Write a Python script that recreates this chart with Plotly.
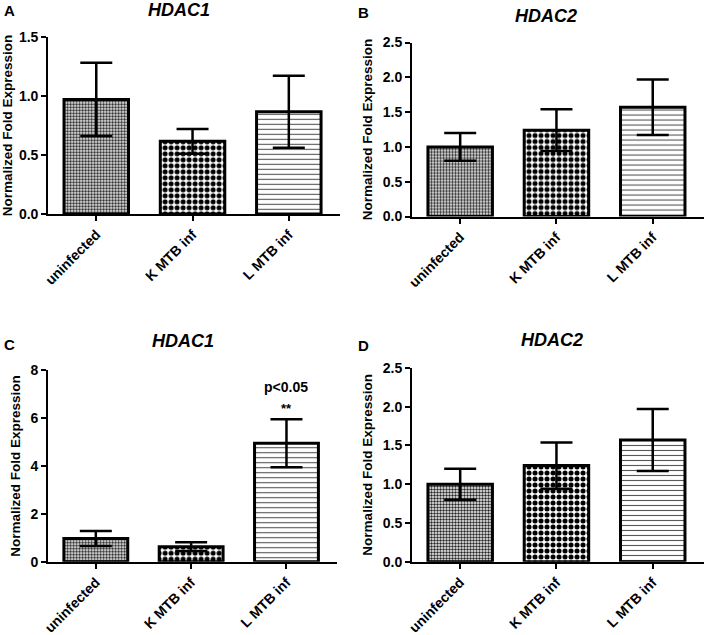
# python3

from plotly.subplots import make_subplots
import plotly.graph_objects as go

groups = ['uninfected', 'K MTB inf', 'L MTB inf']

hdac1_a = [0.97, 0.615, 0.865]
hdac1_a_err = [0.31, 0.105, 0.305]

hdac2_b = [1.0, 1.24, 1.57]
hdac2_b_err = [0.2, 0.3, 0.4]

hdac1_c = [0.97, 0.63, 4.95]
hdac1_c_err = [0.31, 0.18, 1.0]

hdac2_d = [1.0, 1.24, 1.57]
hdac2_d_err = [0.2, 0.3, 0.4]

font_fam = 'Liberation Sans, Arial, sans-serif'

fig = make_subplots(rows=2, cols=2)

panels = [
    (1, 1, hdac1_a, hdac1_a_err, [0, 1.5], 0.5),
    (1, 2, hdac2_b, hdac2_b_err, [0, 2.5], 0.5),
    (2, 1, hdac1_c, hdac1_c_err, [0, 8], 2),
    (2, 2, hdac2_d, hdac2_d_err, [0, 2.5], 0.5),
]

# bar fills: fine checker, coarse checker, horizontal lines
pat = dict(shape=['.', '.', '-'],
           size=[3, 6, 5],
           solidity=[0.5, 0.55, 0.22],
           fgcolor=['#222', '#000', '#555'],
           bgcolor='white',
           fillmode='replace')

for row, col, vals, errs, rng, dt in panels:
    fig.add_trace(go.Bar(x=groups, y=vals, width=0.67,
                         marker=dict(color='white', pattern=pat,
                                     line=dict(color='black', width=3)),
                         error_y=dict(type='data', array=errs, visible=True,
                                      color='black', thickness=2.5, width=16),
                         showlegend=False),
                  row=row, col=col)
    fig.update_yaxes(range=rng, dtick=dt, tick0=0, showgrid=False, zeroline=False,
                     showline=True, linecolor='black', linewidth=2, automargin=False,
                     ticks='outside', ticklen=5, tickwidth=2, tickcolor='black',
                     tickformat='.1f' if dt < 1 else 'd',
                     tickfont=dict(family=font_fam, size=14, color='black', weight='bold'),
                     title=dict(text='Normalized Fold Expression', standoff=7,
                                font=dict(family=font_fam, size=13.5, color='black', weight='bold')),
                     row=row, col=col)
    fig.update_xaxes(range=[-0.5, 2.53], showgrid=False, zeroline=False,
                     showline=True, linecolor='black', linewidth=2, automargin=False,
                     ticks='outside', ticklen=5, tickwidth=2, tickcolor='black',
                     tickangle=-45,
                     tickfont=dict(family=font_fam, size=14, color='black', weight='bold'),
                     row=row, col=col)

# manual subplot geometry
fig.update_layout(
    xaxis=dict(domain=[0.068, 0.48]),
    xaxis2=dict(domain=[0.582, 0.994]),
    xaxis3=dict(domain=[0.068, 0.476]),
    xaxis4=dict(domain=[0.582, 0.994]),
    yaxis=dict(domain=[0.663, 0.942]),
    yaxis2=dict(domain=[0.659, 0.933]),
    yaxis3=dict(domain=[0.1154, 0.417]),
    yaxis4=dict(domain=[0.1154, 0.4205]),
)

titles = [('HDAC1', 0.253, 0.984), ('HDAC2', 0.771, 0.975),
          ('HDAC1', 0.259, 0.463), ('HDAC2', 0.779, 0.465)]
for txt, x, y in titles:
    fig.add_annotation(text=txt, x=x, y=y, xref='paper', yref='paper',
                       showarrow=False, xanchor='center', yanchor='middle',
                       font=dict(family=font_fam, size=18, color='black',
                                 weight='bold', style='italic'))

letters = [('A', 0.003, 0.984), ('B', 0.503, 0.98),
           ('C', 0.003, 0.458), ('D', 0.503, 0.456)]
for txt, x, y in letters:
    fig.add_annotation(text=txt, x=x, y=y, xref='paper', yref='paper',
                       showarrow=False, xanchor='left', yanchor='middle',
                       font=dict(family=font_fam, size=15, color='black', weight='bold'))

# significance marks on panel C
fig.add_annotation(text='p<0.05', x='L MTB inf', y=7.3, xref='x3', yref='y3',
                   showarrow=False, font=dict(family=font_fam, size=14, color='black', weight='bold'))
fig.add_annotation(text='**', x='L MTB inf', y=6.4, xref='x3', yref='y3',
                   showarrow=False, font=dict(family=font_fam, size=13, color='black', weight='bold'))

fig.update_layout(width=708, height=635, margin=dict(l=0, r=0, t=0, b=0),
                  plot_bgcolor='white', paper_bgcolor='white', bargap=0.33)

# page body has a default 8px margin; drop it so the figure fills the window
fig.write_html("out.html", config={'displayModeBar': False},
               post_script="document.body.style.margin='0';")
